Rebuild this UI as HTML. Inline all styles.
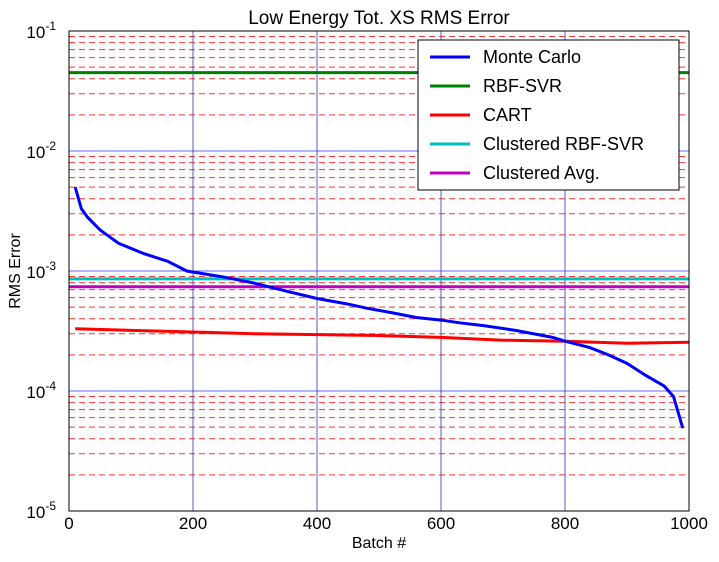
<!DOCTYPE html>
<html><head><meta charset="utf-8"><style>
body{margin:0;background:#fff;font-family:"Liberation Sans",sans-serif}
</style></head><body>
<svg id="chart" width="719" height="557" xmlns="http://www.w3.org/2000/svg" font-family="Liberation Sans, sans-serif">
<rect width="719" height="557" fill="#fff"/>
<g id="grid"></g><g id="series"></g><g id="axes"></g>
</svg>
<script>
const mcBatch=[10,20,30,50,80,120,160,190,250,300,350,400,450,480,520,560,600,630,670,720,780,800,840,870,900,930,960,975,990];
const mcValues=[5e-3,3.3e-3,2.8e-3,2.2e-3,1.7e-3,1.4e-3,1.2e-3,1.0e-3,8.9e-4,7.9e-4,6.8e-4,5.9e-4,5.3e-4,4.9e-4,4.5e-4,4.1e-4,3.9e-4,3.7e-4,3.5e-4,3.2e-4,2.8e-4,2.6e-4,2.3e-4,2.0e-4,1.7e-4,1.35e-4,1.1e-4,9e-5,4.9e-5];
const cartBatch=[10,100,200,300,400,500,600,700,800,900,1000];
const cartValues=[3.3e-4,3.2e-4,3.1e-4,3.0e-4,2.95e-4,2.9e-4,2.8e-4,2.65e-4,2.6e-4,2.5e-4,2.55e-4];
const flatNames=["RBF-SVR","Clustered RBF-SVR","Clustered Avg."];
const flatValues=[0.045,8.6e-4,7.4e-4];
const flatColors=["#008000","#00bfbf","#bf00bf"];
const xTicks=[0,200,400,600,800,1000];
const yExps=[-5,-4,-3,-2,-1];

const L=69,R=689,T=31,B=511;
const xs=v=>L+(v-0)/1000*(R-L);
const ys=v=>B-(Math.log10(v)+5)*(B-T)/4;
const NS="http://www.w3.org/2000/svg";
function mk(tag,attrs,parent){const e=document.createElementNS(NS,tag);for(const k in attrs)e.setAttribute(k,attrs[k]);parent.appendChild(e);return e;}
const grid=document.getElementById('grid'),series=document.getElementById('series'),axes=document.getElementById('axes');

for(let e=-5;e<-1;e++){for(let m=2;m<=9;m++){const y=ys(m*Math.pow(10,e));
 const g=mk('line',{x1:L,x2:R,y1:y,y2:y,stroke:'#ff3333','stroke-width':1,'stroke-dasharray':'6,4'},grid);
 
 }}
yExps.forEach(e=>{const y=ys(Math.pow(10,e));
 const g=mk('line',{x1:L,x2:R,y1:y,y2:y,stroke:'#3333ff','stroke-width':0.8},grid);
 
 });
xTicks.forEach(t=>{const x=xs(t);
 const g=mk('line',{x1:x,x2:x,y1:T,y2:B,stroke:'#3333aa','stroke-width':0.8},grid);
 
 });

flatValues.forEach((v,i)=>{const y=ys(v);
 const l=mk('line',{x1:L,x2:R,y1:y,y2:y,stroke:flatColors[i],'stroke-width':3},series);
 
 });
const cp=mk('polyline',{points:cartBatch.map((b,i)=>xs(b)+','+ys(cartValues[i])).join(' '),fill:'none',stroke:'#ff0000','stroke-width':3},series);


const mp=mk('polyline',{points:mcBatch.map((b,i)=>xs(b)+','+ys(mcValues[i])).join(' '),fill:'none',stroke:'#0000ff','stroke-width':3},series);



const fr=mk('rect',{x:L,y:T,width:R-L,height:B-T,fill:'none',stroke:'#000','stroke-width':1},axes);


xTicks.forEach(t=>{const x=xs(t);
 const tx=mk('text',{x:x,y:529,'text-anchor':'middle','font-size':17},axes);tx.textContent=t;
 
 });
yExps.forEach(e=>{const y=ys(Math.pow(10,e));
 const tx=mk('text',{x:56,y:y+7,'text-anchor':'end','font-size':17},axes);
 tx.textContent='10';
 const s=mk('tspan',{dy:-8,'font-size':12},tx);s.textContent=e;
 
 });
</script>
<svg style="position:absolute;left:0;top:0" width="719" height="557" font-family="Liberation Sans, sans-serif">
<text x="379" y="24" text-anchor="middle" font-size="19">Low Energy Tot. XS RMS Error</text>
<text x="379" y="548" text-anchor="middle" font-size="16">Batch #</text>
<text x="20" y="271" text-anchor="middle" font-size="16" transform="rotate(-90 20 271)">RMS Error</text>
<g>
<rect x="418" y="40" width="261" height="150" fill="#fff" stroke="#000"/>
<line x1="430" x2="470" y1="57" y2="57" stroke="#0000ff" stroke-width="3"/><text x="483" y="63" font-size="18">Monte Carlo</text>
<line x1="430" x2="470" y1="86" y2="86" stroke="#008000" stroke-width="3"/><text x="483" y="92" font-size="18">RBF-SVR</text>
<line x1="430" x2="470" y1="115" y2="115" stroke="#ff0000" stroke-width="3"/><text x="483" y="121" font-size="18">CART</text>
<line x1="430" x2="470" y1="144" y2="144" stroke="#00bfbf" stroke-width="3"/><text x="483" y="150" font-size="18">Clustered RBF-SVR</text>
<line x1="430" x2="470" y1="173" y2="173" stroke="#bf00bf" stroke-width="3"/><text x="483" y="179" font-size="18">Clustered Avg.</text>
</g>
</svg>
</body></html>
